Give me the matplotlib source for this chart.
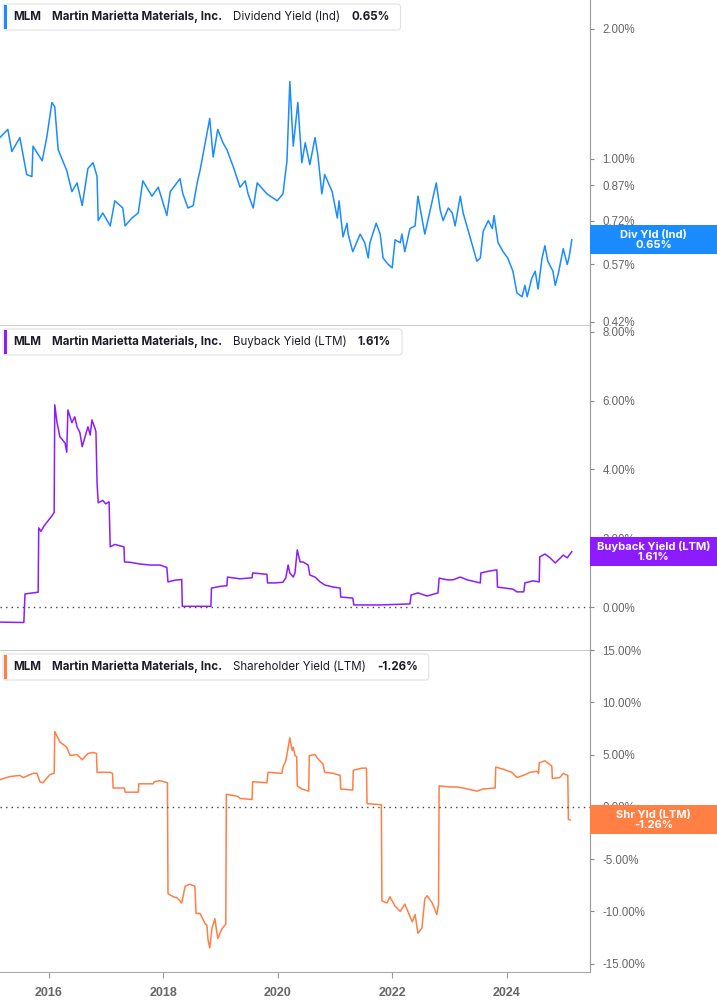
import matplotlib
matplotlib.use('Agg')
import matplotlib.pyplot as plt
from matplotlib.patches import FancyBboxPatch, Rectangle
from matplotlib.ticker import NullLocator, FixedLocator
from matplotlib.transforms import IdentityTransform

# ---- data (decimal year, percent) ----
div_dates = [2015.14, 2015.28, 2015.35, 2015.49, 2015.61, 2015.70, 2015.72, 2015.88, 2015.96, 2016.05,
             2016.10, 2016.16, 2016.31, 2016.40, 2016.49, 2016.58, 2016.68, 2016.77, 2016.84, 2016.86,
             2016.94, 2017.07, 2017.15, 2017.29, 2017.33, 2017.45, 2017.56, 2017.64, 2017.80, 2017.91,
             2018.06, 2018.12, 2018.29, 2018.34, 2018.43, 2018.52, 2018.59, 2018.64, 2018.81, 2018.87,
             2018.95, 2019.04, 2019.11, 2019.22, 2019.34, 2019.43, 2019.48, 2019.57, 2019.64, 2019.81,
             2019.99, 2020.09, 2020.16, 2020.21, 2020.27, 2020.35, 2020.42, 2020.48, 2020.56, 2020.65,
             2020.70, 2020.77, 2020.82, 2020.95, 2021.04, 2021.07, 2021.14, 2021.21, 2021.23, 2021.31,
             2021.44, 2021.52, 2021.58, 2021.61, 2021.72, 2021.79, 2021.84, 2021.93, 2022.00, 2022.05,
             2022.14, 2022.17, 2022.22, 2022.31, 2022.40, 2022.45, 2022.57, 2022.70, 2022.77, 2022.84,
             2022.89, 2022.98, 2023.05, 2023.10, 2023.19, 2023.24, 2023.36, 2023.48, 2023.54, 2023.59,
             2023.68, 2023.75, 2023.78, 2023.85, 2023.94, 2024.02, 2024.11, 2024.18, 2024.27, 2024.32,
             2024.36, 2024.44, 2024.50, 2024.55, 2024.62, 2024.67, 2024.72, 2024.81, 2024.85, 2024.90,
             2024.99, 2025.06, 2025.09, 2025.14]
div_vals = [1.12, 1.17, 1.04, 1.12, 0.92, 0.91, 1.07, 0.99, 1.12, 1.35,
            1.32, 1.05, 0.94, 0.84, 0.88, 0.78, 0.95, 0.98, 0.91, 0.72,
            0.75, 0.70, 0.80, 0.77, 0.70, 0.73, 0.75, 0.89, 0.82, 0.86,
            0.74, 0.84, 0.90, 0.83, 0.77, 0.78, 0.88, 0.94, 1.24, 1.01,
            1.17, 1.09, 1.05, 0.96, 0.86, 0.89, 0.83, 0.77, 0.88, 0.83,
            0.80, 0.83, 0.99, 1.51, 1.07, 1.35, 0.98, 1.09, 0.97, 1.12,
            1.02, 0.83, 0.92, 0.84, 0.73, 0.80, 0.66, 0.71, 0.67, 0.61,
            0.67, 0.64, 0.59, 0.64, 0.71, 0.67, 0.59, 0.57, 0.56, 0.65,
            0.64, 0.67, 0.61, 0.69, 0.70, 0.82, 0.67, 0.80, 0.88, 0.76,
            0.72, 0.77, 0.75, 0.70, 0.82, 0.75, 0.66, 0.58, 0.59, 0.68,
            0.72, 0.69, 0.74, 0.64, 0.61, 0.59, 0.55, 0.49, 0.48, 0.51,
            0.48, 0.53, 0.55, 0.50, 0.59, 0.63, 0.58, 0.55, 0.51, 0.54,
            0.62, 0.57, 0.59, 0.65]

buy_dates = [2015.14, 2015.56, 2015.58, 2015.67, 2015.81, 2015.82, 2015.86, 2015.91, 2015.98, 2016.05,
             2016.09, 2016.10, 2016.14, 2016.19, 2016.28, 2016.31, 2016.33, 2016.40, 2016.45, 2016.49,
             2016.54, 2016.58, 2016.63, 2016.68, 2016.72, 2016.75, 2016.80, 2016.82, 2016.84, 2016.86,
             2016.94, 2016.99, 2017.05, 2017.07, 2017.15, 2017.24, 2017.31, 2017.32, 2017.42, 2017.59,
             2017.77, 2017.94, 2018.06, 2018.08, 2018.20, 2018.32, 2018.33, 2018.83, 2018.84, 2018.99,
             2019.11, 2019.12, 2019.34, 2019.55, 2019.56, 2019.69, 2019.81, 2019.82, 2019.95, 2020.09,
             2020.14, 2020.18, 2020.21, 2020.27, 2020.30, 2020.34, 2020.39, 2020.44, 2020.53, 2020.56,
             2020.65, 2020.74, 2020.82, 2020.97, 2021.09, 2021.10, 2021.31, 2021.33, 2021.79, 2022.31,
             2022.33, 2022.45, 2022.61, 2022.80, 2022.82, 2022.96, 2023.06, 2023.19, 2023.31, 2023.54,
             2023.55, 2023.71, 2023.83, 2023.84, 2024.11, 2024.18, 2024.30, 2024.32, 2024.46, 2024.57,
             2024.58, 2024.67, 2024.76, 2024.85, 2024.99, 2025.06, 2025.14]
buy_vals = [-0.44, -0.45, 0.38, 0.40, 0.43, 2.30, 2.20, 2.35, 2.50, 2.65,
            2.75, 5.88, 5.36, 4.95, 4.77, 4.50, 5.73, 5.36, 5.53, 5.24,
            5.07, 4.66, 4.95, 5.24, 5.00, 5.44, 5.21, 5.10, 3.60, 3.03,
            3.10, 3.00, 3.06, 1.75, 1.82, 1.78, 1.75, 1.31, 1.30, 1.25,
            1.22, 1.22, 1.15, 0.73, 0.78, 0.80, 0.02, 0.02, 0.55, 0.60,
            0.62, 0.87, 0.82, 0.85, 0.99, 0.97, 0.95, 0.70, 0.70, 0.72,
            0.85, 1.22, 0.99, 0.87, 0.99, 1.66, 1.31, 1.31, 1.22, 0.93,
            0.87, 0.73, 0.64, 0.58, 0.55, 0.29, 0.26, 0.06, 0.06, 0.09,
            0.35, 0.41, 0.32, 0.41, 0.84, 0.79, 0.79, 0.87, 0.79, 0.70,
            0.99, 1.05, 1.08, 0.58, 0.52, 0.44, 0.44, 0.70, 0.76, 0.73,
            1.46, 1.54, 1.43, 1.28, 1.51, 1.43, 1.61]

shr_dates = [2015.14, 2015.32, 2015.49, 2015.55, 2015.72, 2015.79, 2015.84, 2015.89, 2016.02, 2016.09,
             2016.10, 2016.19, 2016.31, 2016.37, 2016.49, 2016.58, 2016.68, 2016.77, 2016.83, 2016.84,
             2017.07, 2017.11, 2017.12, 2017.29, 2017.32, 2017.33, 2017.56, 2017.57, 2017.71, 2017.82,
             2017.84, 2017.94, 2018.07, 2018.08, 2018.17, 2018.24, 2018.32, 2018.38, 2018.46, 2018.55,
             2018.57, 2018.64, 2018.73, 2018.76, 2018.78, 2018.81, 2018.85, 2018.90, 2018.95, 2019.02,
             2019.09, 2019.10, 2019.30, 2019.34, 2019.55, 2019.56, 2019.81, 2019.83, 2020.07, 2020.09,
             2020.14, 2020.21, 2020.25, 2020.27, 2020.30, 2020.33, 2020.34, 2020.42, 2020.54, 2020.55,
             2020.65, 2020.70, 2020.79, 2020.82, 2020.97, 2021.09, 2021.10, 2021.31, 2021.32, 2021.47,
             2021.55, 2021.56, 2021.81, 2021.82, 2021.91, 2021.96, 2022.05, 2022.14, 2022.22, 2022.35,
             2022.40, 2022.45, 2022.52, 2022.57, 2022.61, 2022.70, 2022.78, 2022.81, 2022.82, 2023.01,
             2023.13, 2023.24, 2023.48, 2023.59, 2023.80, 2023.81, 2023.94, 2024.09, 2024.18, 2024.29,
             2024.41, 2024.53, 2024.56, 2024.57, 2024.67, 2024.79, 2024.80, 2024.93, 2024.99, 2025.07,
             2025.08, 2025.11]
shr_vals = [2.6, 2.9, 3.0, 2.8, 3.2, 3.2, 2.4, 2.3, 3.1, 3.2,
            7.2, 6.2, 5.7, 4.9, 5.0, 4.5, 5.1, 5.2, 5.1, 3.3,
            3.3, 3.2, 1.8, 1.8, 1.8, 1.4, 1.4, 2.2, 2.2, 2.2,
            2.4, 2.5, 2.3, -8.3, -8.6, -8.7, -9.2, -7.6, -7.4, -7.6,
            -10.2, -10.2, -11.2, -11.3, -12.7, -13.5, -11.6, -10.7, -12.6, -11.7,
            -11.2, 1.2, 1.0, 0.8, 0.7, 2.4, 2.3, 3.3, 3.2, 3.8,
            4.4, 6.6, 5.4, 5.7, 4.9, 4.8, 2.0, 1.7, 1.5, 4.9,
            5.0, 4.6, 4.1, 3.3, 3.2, 3.0, 1.7, 1.6, 3.5, 3.7,
            3.7, 0.3, 0.2, -9.0, -9.2, -8.6, -9.5, -10.0, -9.3, -11.0,
            -10.3, -12.1, -11.6, -8.8, -8.5, -9.2, -10.3, -9.3, 2.0, 1.9,
            1.9, 1.8, 1.5, 1.7, 1.8, 3.8, 3.6, 3.3, 2.8, 3.0,
            3.3, 3.4, 3.2, 4.2, 4.4, 3.9, 2.7, 2.8, 3.2, 3.0,
            -1.2, -1.26]

year_ticks = [2016, 2018, 2020, 2022, 2024]
div_ticks = [0.42, 0.57, 0.72, 0.87, 1.00, 2.00]
buy_ticks = [0, 2, 4, 6, 8]
shr_ticks = [-15, -10, -5, 0, 5, 10, 15]

BLUE = '#1a8cff'
PURPLE = '#8c1cff'
ORANGE = '#ff7f45'

W, H = 717, 1005
fig = plt.figure(figsize=(W / 100, H / 100), dpi=100)

def px_axes(top, bottom):
    return fig.add_axes([0, 1 - bottom / H, 590 / W, (bottom - top) / H])

ax1 = px_axes(0, 325)
ax2 = px_axes(325, 650)
ax3 = px_axes(650, 972)

xlim = (2015.143, 2025.458)

ax1.plot(div_dates, div_vals, color=BLUE, lw=1.1)
ax1.set_yscale('log')
ax1.set_ylim(0.413, 2.33)
ax1.yaxis.set_major_locator(FixedLocator(div_ticks))
ax1.yaxis.set_minor_locator(NullLocator())
ax1.set_yticklabels([f'{v:.2f}%' for v in div_ticks])

ax2.plot(buy_dates, buy_vals, color=PURPLE, lw=1.1)
ax2.set_ylim(-1.25, 8.2)
ax2.set_yticks(buy_ticks)
ax2.set_yticklabels([f'{v:.2f}%' for v in buy_ticks])
ax2.axhline(0, color='#444444', lw=1, ls=(0, (1, 3)))

ax3.plot(shr_dates, shr_vals, color=ORANGE, lw=1.1)
ax3.set_ylim(-15.8, 15.0)
ax3.set_yticks(shr_ticks)
ax3.set_yticklabels([f'{v:.2f}%' for v in shr_ticks])
ax3.axhline(0, color='#444444', lw=1, ls=(0, (1, 3)))

for ax in (ax1, ax2, ax3):
    ax.set_xlim(*xlim)
    ax.set_facecolor('none')
    ax.yaxis.tick_right()
    ax.spines['left'].set_visible(False)
    ax.spines['top'].set_visible(False)
    ax.spines['right'].set_color('#999999')
    ax.spines['bottom'].set_color('#cccccc')
    ax.tick_params(axis='y', direction='out', length=3, color='#888888', pad=6,
                   labelsize=8.3, labelcolor='#666666')
    for lab in ax.get_yticklabels():
        lab.set_family('Liberation Sans')
    ax.tick_params(axis='x', bottom=False, labelbottom=False)

ax3.spines['bottom'].set_color('#aaaaaa')
ax3.set_xticks(year_ticks)
ax3.set_xticklabels([str(y) for y in year_ticks])
ax3.tick_params(axis='x', bottom=True, labelbottom=True, direction='out', length=4,
                color='#999999', labelsize=9, labelcolor='#666666', pad=7)
for lab in ax3.get_xticklabels():
    lab.set_family('Liberation Sans')
    lab.set_fontweight('bold')

renderer = fig.canvas.get_renderer()

def header(top, color, metric, value):
    x = 13
    yc = H - (top + 17)
    pieces = [('MLM', 'bold'), ('Martin Marietta Materials, Inc.', 'bold'),
              (metric, 'normal'), (value, 'bold')]
    for s, w in pieces:
        t = fig.text(x / W, yc / H, s, fontsize=8.3, fontweight=w, family='Inter',
                     color='#1c1c28', va='center', ha='left')
        x += t.get_window_extent(renderer).width + 11
    box = FancyBboxPatch((3, H - top - 30), x - 3, 26,
                         boxstyle='round,pad=0,rounding_size=3', transform=IdentityTransform(),
                         facecolor='white', edgecolor='#e2e2e2', lw=0.8, zorder=1)
    fig.add_artist(box)
    fig.add_artist(Rectangle((4, H - top - 29), 3, 24, transform=IdentityTransform(),
                             facecolor=color, edgecolor='none', zorder=2))

header(0, BLUE, 'Dividend Yield (Ind)', f'{div_vals[-1]:.2f}%')
header(325, PURPLE, 'Buyback Yield (LTM)', f'{buy_vals[-1]:.2f}%')
header(650, ORANGE, 'Shareholder Yield (LTM)', f'{shr_vals[-1]:.2f}%')

def end_label(ax, xv, yv, color, name):
    yd = ax.transData.transform((xv, yv))[1]
    fig.add_artist(Rectangle((590, yd - 14.5), W - 590, 29, transform=IdentityTransform(),
                             facecolor=color, edgecolor='none', zorder=3))
    fig.text((590 + (W - 590) / 2) / W, yd / H, f'{name}\n{yv:.2f}%', ha='center', va='center',
             color='white', fontsize=8, fontweight='bold', family='Inter', linespacing=1.05,
             zorder=4)

end_label(ax1, div_dates[-1], div_vals[-1], BLUE, 'Div Yld (Ind)')
end_label(ax2, buy_dates[-1], buy_vals[-1], PURPLE, 'Buyback Yield (LTM)')
end_label(ax3, shr_dates[-1], shr_vals[-1], ORANGE, 'Shr Yld (LTM)')

fig.savefig('out.png', dpi=100, facecolor='white')
plt.close(fig)
